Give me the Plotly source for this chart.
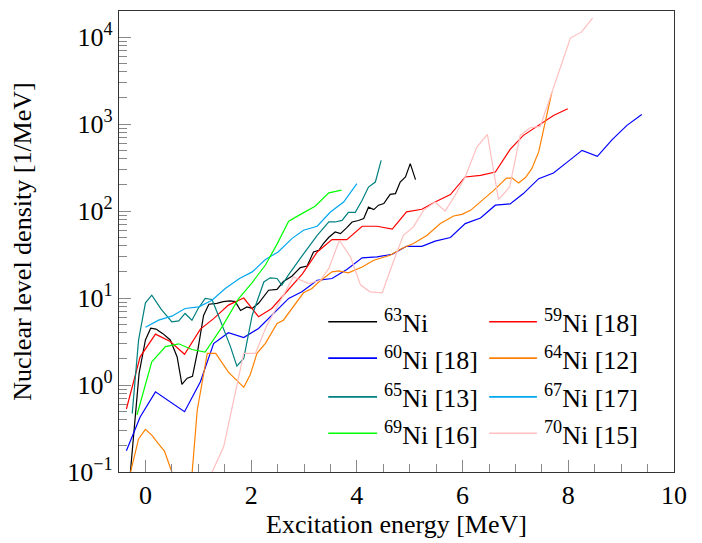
import plotly.graph_objects as go

# ---- data (excitation energy [MeV], level density [1/MeV]) ----
E_63 = [-0.36, -0.12, 0.0, 0.1, 0.2, 0.33, 0.47, 0.6, 0.69, 0.79, 0.89, 0.99, 1.1, 1.2, 1.35, 1.47,
        1.6, 1.7, 1.8, 1.92, 2.02, 2.14, 2.33, 2.49, 2.61, 2.77, 2.93, 3.06, 3.18, 3.28, 3.37, 3.47,
        3.59, 3.69, 3.81, 3.91, 4.03, 4.13, 4.22, 4.32, 4.41, 4.51, 4.63, 4.73, 4.82, 4.92, 5.01, 5.11]
rho_63 = [0.03, 1.36, 3.3, 4.5, 4.4, 3.9, 3.3, 2.1, 1.02, 1.2, 1.26, 2.5, 6.3, 8.5, 8.7, 9.1,
          9.3, 9.1, 7.2, 7.9, 7.6, 8.7, 12.3, 12.6, 15.5, 17.8, 22.4, 23.4, 33.9, 35.5, 42.7, 50,
          57.5, 55, 64.6, 75, 78, 82, 111, 104, 117, 122, 156, 159, 216, 247, 352, 230]

E_59 = [-0.36, -0.10, 0.19, 0.47, 0.74, 1.04, 1.29, 1.57, 1.86, 2.14, 2.39, 2.69, 2.97, 3.25, 3.53, 3.81,
        4.10, 4.38, 4.67, 4.94, 5.23, 5.48, 5.77, 6.05, 6.34, 6.62, 6.90, 7.15, 7.44, 7.72, 7.99]
rho_59 = [0.53, 2.11, 3.85, 3.16, 2.26, 4.4, 5.8, 8.3, 10, 6.1, 7.6, 12.3, 19, 33.9, 47, 47,
          67, 67, 62, 98, 105, 127, 155, 247, 258, 281, 513, 743, 968, 1260, 1500]

E_60 = [-0.36, -0.10, 0.19, 0.47, 0.74, 1.04, 1.29, 1.57, 1.86, 2.14, 2.39, 2.71, 2.96, 3.25, 3.53, 3.81,
        4.10, 4.38, 4.67, 4.94, 5.23, 5.48, 5.77, 6.05, 6.34, 6.62, 6.90, 7.15, 7.44, 7.72, 7.98, 8.26,
        8.55, 8.83, 9.11, 9.39]
rho_60 = [0.176, 0.43, 0.835, 0.645, 0.493, 1.09, 3.0, 4.0, 3.52, 4.47, 6.35, 9.9, 11.8, 16.0, 16.8, 21.3,
          29.0, 29.7, 31.9, 39.4, 39.4, 45.2, 49.7, 71.9, 83.4, 117, 121, 159, 236, 274, 366, 500,
          427, 664, 968, 1294]

E_64 = [-0.36, -0.13, 0.0, 0.12, 0.24, 0.36, 0.50, 0.62, 0.75, 0.98, 1.17, 1.33, 1.57, 1.73, 1.86, 1.98,
        2.11, 2.27, 2.49, 2.61, 2.74, 2.99, 3.15, 3.28, 3.53, 3.66, 3.84, 4.10, 4.32, 4.63, 4.85, 5.07,
        5.33, 5.58, 5.83, 5.99, 6.15, 6.37, 6.59, 6.83, 6.94, 7.06, 7.19, 7.31, 7.44, 7.57, 7.69]
rho_64 = [0.063, 0.24, 0.309, 0.266, 0.214, 0.174, 0.1, 0.05, 0.01, 0.513, 2.31, 2.31, 1.41, 1.14, 0.94, 1.3,
          2.31, 3.01, 5.11, 5.57, 7.06, 11.5, 12.9, 15.3, 20, 20.5, 19.5, 22.8, 27.2, 31.1, 37.2, 42.4,
          52.7, 71.9, 87.9, 91.8, 102, 133, 173, 240, 240, 210, 243, 308, 479, 1100, 2330]

E_65 = [-0.25, -0.13, 0.0, 0.12, 0.3, 0.50, 0.63, 0.75, 0.88, 0.99, 1.13, 1.26, 1.38, 1.51, 1.61, 1.73,
        1.86, 2.02, 2.24, 2.36, 2.49, 2.58, 2.71, 2.96, 3.25, 3.47, 3.59, 3.72, 3.84, 3.97, 4.10, 4.22,
        4.35, 4.46]
rho_65 = [0.47, 3.28, 8.81, 10.8, 7.4, 5.32, 5.47, 6.65, 5.57, 7.45, 9.89, 9.64, 6.31, 3.89, 2.75, 1.65,
          2.02, 6.35, 15.3, 17.1, 16.8, 14.1, 18.6, 30.3, 52.7, 75, 75, 78.3, 96.8, 96.8, 133, 189,
          216, 384]

E_67 = [0.0, 0.25, 0.50, 0.75, 1.01, 1.26, 1.51, 1.78, 2.02, 2.27, 2.51, 2.77, 2.99, 3.25, 3.50, 3.75, 4.00]
rho_67 = [4.62, 5.57, 6.19, 7.59, 7.93, 9.46, 12.9, 16.8, 20, 27.7, 33.9, 48.3, 60.3, 67, 97.7, 127, 207]

E_69 = [-0.16, 0.12, 0.38, 0.63, 0.88, 1.13, 1.45, 1.76, 2.02, 2.27, 2.49, 2.71, 2.96, 3.21, 3.47, 3.71]
rho_69 = [0.452, 1.85, 2.77, 2.98, 2.56, 2.39, 4.67, 9.77, 15.1, 24, 41.7, 76.4, 93.5, 114, 162, 174]

E_70 = [1.15, 1.48, 1.86, 2.08, 2.30, 2.49, 2.80, 3.09, 3.31, 3.47, 3.67, 3.88, 4.07, 4.25, 4.48, 4.70,
        4.88, 5.07, 5.26, 5.48, 5.67, 5.86, 6.05, 6.27, 6.47, 6.68, 6.89, 7.09, 7.28, 7.47, 7.69, 7.86,
        8.04, 8.25, 8.46]
rho_70 = [0.071, 0.195, 2.31, 2.31, 4.89, 7.93, 17.5, 14.7, 16.0, 21.9, 46.2, 29.7, 14.1, 11.8, 11.5, 27.2,
          52.7, 65.8, 102, 127, 100, 152, 247, 546, 762, 136, 189, 743, 910, 942, 2340, 4790,
          9770, 11500, 16600]

# legend order (two columns, row-wise)
series = [
    ("<sup>63</sup>Ni", E_63, rho_63, "#000000"),
    ("<sup>59</sup>Ni [18]", E_59, rho_59, "#ff0000"),
    ("<sup>60</sup>Ni [18]", E_60, rho_60, "#0000ff"),
    ("<sup>64</sup>Ni [12]", E_64, rho_64, "#ff8000"),
    ("<sup>65</sup>Ni [13]", E_65, rho_65, "#008080"),
    ("<sup>67</sup>Ni [17]", E_67, rho_67, "#00a8f0"),
    ("<sup>69</sup>Ni [16]", E_69, rho_69, "#00ff00"),
    ("<sup>70</sup>Ni [15]", E_70, rho_70, "#ffbfbf"),
]

x_ticks = [0, 2, 4, 6, 8, 10]
y_tickvals = [0.1, 1, 10, 100, 1000, 10000]
y_ticktext = ["10<sup>−1</sup>", "10<sup>0</sup>", "10<sup>1</sup>", "10<sup>2</sup>",
              "10<sup>3</sup>", "10<sup>4</sup>"]

FONT = "Liberation Serif, Times New Roman, DejaVu Serif, serif"
FS = 26

fig = go.Figure()
for name, xs, ys, col in series:
    fig.add_trace(go.Scatter(x=xs, y=ys, mode="lines", name=name,
                             line=dict(color=col, width=1.2), showlegend=False))

# manual two-column legend in paper coordinates
col_x = [(0.377, 0.465, 0.474), (0.667, 0.753, 0.762)]
row_y = [0.326, 0.247, 0.163, 0.084]
shapes, annos = [], []
for i, (name, xs, ys, col) in enumerate(series):
    r, c = divmod(i, 2)
    x0, x1, xt = col_x[c]
    y = row_y[r]
    shapes.append(dict(type="line", xref="paper", yref="paper", x0=x0, x1=x1, y0=y, y1=y,
                       line=dict(color=col, width=1.6)))
    annos.append(dict(xref="paper", yref="paper", x=xt, y=y, text=name, showarrow=False,
                      xanchor="left", yanchor="middle",
                      font=dict(family=FONT, size=FS, color="black")))

fig.update_layout(
    width=702, height=543,
    margin=dict(l=119, r=28, t=11, b=71, autoexpand=False),
    paper_bgcolor="white", plot_bgcolor="white",
    font=dict(family=FONT, size=FS, color="black"),
    showlegend=False,
    shapes=shapes, annotations=annos,
)

fig.update_xaxes(
    range=[-0.5, 10], tickvals=x_ticks,
    ticks="inside", ticklen=12, tickcolor="#888", tickwidth=1,
    minor=dict(dtick=0.5, ticks="inside", ticklen=8, tickcolor="#888", tickwidth=1),
    showline=True, linecolor="#333", linewidth=1.3, mirror=True,
    showgrid=False, zeroline=False,
    title=dict(text="Excitation energy [MeV]", font=dict(family=FONT, size=FS), standoff=5),
    tickfont=dict(family=FONT, size=FS),
)
fig.update_yaxes(
    type="log", range=[-1, 4.301],
    tickvals=y_tickvals, ticktext=y_ticktext,
    ticks="inside", ticklen=12, tickcolor="#888", tickwidth=1,
    minor=dict(dtick="D1", ticks="inside", ticklen=8, tickcolor="#888", tickwidth=1),
    showline=True, linecolor="#333", linewidth=1.3, mirror=True,
    showgrid=False, zeroline=False,
    title=dict(text="Nuclear level density [1/MeV]", font=dict(family=FONT, size=FS), standoff=28),
    tickfont=dict(family=FONT, size=FS),
)

fig.write_html("out.html")
